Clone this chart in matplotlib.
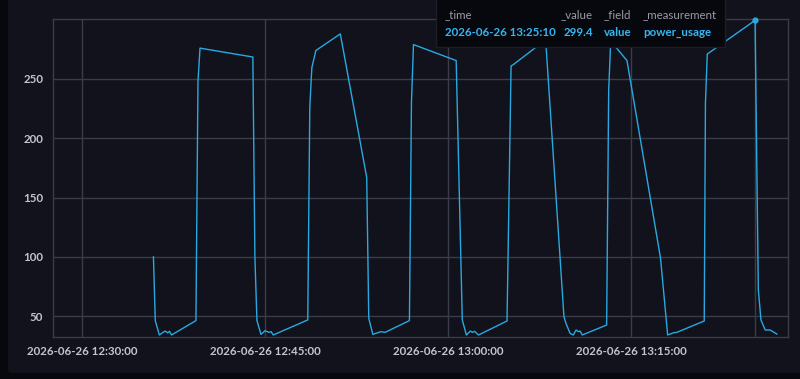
import matplotlib
matplotlib.use("Agg")
import matplotlib.pyplot as plt
import matplotlib.dates as mdates
from matplotlib.patches import FancyBboxPatch, Rectangle
import pandas as pd

plt.rcParams['font.family'] = ['Lato', 'DejaVu Sans']

times = [
    "12:35:51", "12:36:00", "12:36:20", "12:36:40", "12:36:50", "12:37:00", "12:37:10", "12:37:20",
    "12:39:20", "12:39:30", "12:39:40", "12:44:00", "12:44:10", "12:44:20", "12:44:40", "12:45:00",
    "12:45:20", "12:45:30", "12:45:40", "12:48:30", "12:48:40", "12:48:50", "12:49:10", "12:51:10",
    "12:53:20", "12:53:30", "12:53:50", "12:54:30", "12:54:50", "12:56:50", "12:57:00", "12:57:10",
    "13:00:40", "13:01:10", "13:01:30", "13:01:50", "13:02:00", "13:02:10", "13:02:30", "13:04:50",
    "13:05:10", "13:05:20", "13:08:00", "13:09:30", "13:09:40", "13:10:00", "13:10:16", "13:10:30",
    "13:10:40", "13:10:50", "13:11:00", "13:13:00", "13:13:10", "13:13:20", "13:14:40", "13:17:25",
    "13:18:00", "13:18:30", "13:18:45", "13:21:00", "13:21:06", "13:21:15", "13:25:10", "13:25:26",
    "13:25:39", "13:26:00", "13:26:24", "13:26:57",
]
values = [
    100.0, 46.3, 34.2, 36.7, 37.5, 36.0, 37.3, 34.2,
    46.3, 247.5, 276.0, 268.5, 100.0, 46.3, 34.7, 37.8,
    36.4, 37.0, 34.2, 46.9, 226.0, 259.5, 274.0, 288.0,
    167.0, 48.3, 34.7, 37.0, 36.4, 46.3, 230.0, 279.0,
    265.5, 46.9, 34.2, 37.5, 36.4, 37.3, 34.2, 46.0,
    261.0, 262.0, 283.0, 49.7, 44.0, 35.6, 34.2, 38.4,
    37.0, 37.5, 34.2, 42.6, 240.0, 282.0, 265.5, 99.0,
    34.2, 36.1, 36.4, 46.0, 230.0, 271.0, 299.4, 72.3,
    46.9, 38.4, 38.4, 35.0,
]
y_ticks = [50, 100, 150, 200, 250]
x_ticks = ["12:30:00", "12:45:00", "13:00:00", "13:15:00"]
date = "2026-06-26"

hover_time = "13:25:10"
hover_value = 299.4
tooltip_headers = ["_time", "_value", "_field", "_measurement"]
tooltip_values = [f"{date} {hover_time}", f"{hover_value}", "value", "power_usage"]

t = pd.to_datetime([f"{date} {s}" for s in times])
xt = pd.to_datetime([f"{date} {s}" for s in x_ticks])

W, H = 800, 379
fig = plt.figure(figsize=(W / 100, H / 100), dpi=100)
fig.patch.set_facecolor("#07080d")

panel = FancyBboxPatch((8 / W, 6 / H), 1.2, 1.2, boxstyle="round,pad=0,rounding_size=0.008",
                       transform=fig.transFigure, facecolor="#11121b", edgecolor="none", zorder=-5)
fig.patches.append(panel)

ax = fig.add_axes([53 / W, (H - 337) / H, (788 - 53) / W, (337 - 19.3) / H])
ax.set_facecolor("#11121b")
grid_c = "#3b3c49"
fs = 8.3

ax.plot(t, values, color="#29a9e1", lw=1.0, zorder=3)

ax.set_xlim(pd.Timestamp(f"{date} 12:27:37"), pd.Timestamp(f"{date} 13:27:52"))
ax.set_ylim(32.5, 300.3)
ax.set_yticks(y_ticks)
ax.set_xticks(xt)
ax.xaxis.set_major_formatter(mdates.DateFormatter("%Y-%m-%d %H:%M:%S"))
ax.grid(True, color=grid_c, lw=1.0)
ax.set_axisbelow(True)
for s in ax.spines.values():
    s.set_color(grid_c)
    s.set_linewidth(1.0)
ax.tick_params(length=0, colors="#c3c4cd", labelsize=fs)
ax.tick_params(axis="x", pad=6.5)
ax.tick_params(axis="y", pad=7)
for lbl in ax.get_xticklabels() + ax.get_yticklabels():
    lbl.set_fontweight("bold")
    lbl.set_color("#c3c4cd")

# hover crosshair and point
ht = pd.Timestamp(f"{date} {hover_time}")
ax.axvline(ht, color=grid_c, lw=1.0, zorder=2)
ax.plot([ht], [hover_value], "o", color="#29a9e1", ms=3.5, zorder=4, clip_on=False)

# tooltip
tip = Rectangle((436 / W, (H - 47) / H), (725 - 436) / W, 60 / H, transform=fig.transFigure,
                facecolor="#07080d", edgecolor="#1c1d26", lw=1, zorder=10)
fig.patches.append(tip)
cols = [445, 561, 604, 643]
for x, hdr, val in zip(cols, tooltip_headers, tooltip_values):
    fig.text(x / W, (H - 15) / H, hdr, color="#9a9ba6", fontsize=fs, va="center", ha="left", zorder=11)
    fig.text((x + (3 if hdr == "_value" else 0)) / W, (H - 32) / H, val, color="#35b6f2", fontsize=fs,
             fontweight="bold", va="center", ha="left", zorder=11)

fig.savefig("out.png", dpi=100, facecolor=fig.get_facecolor())
